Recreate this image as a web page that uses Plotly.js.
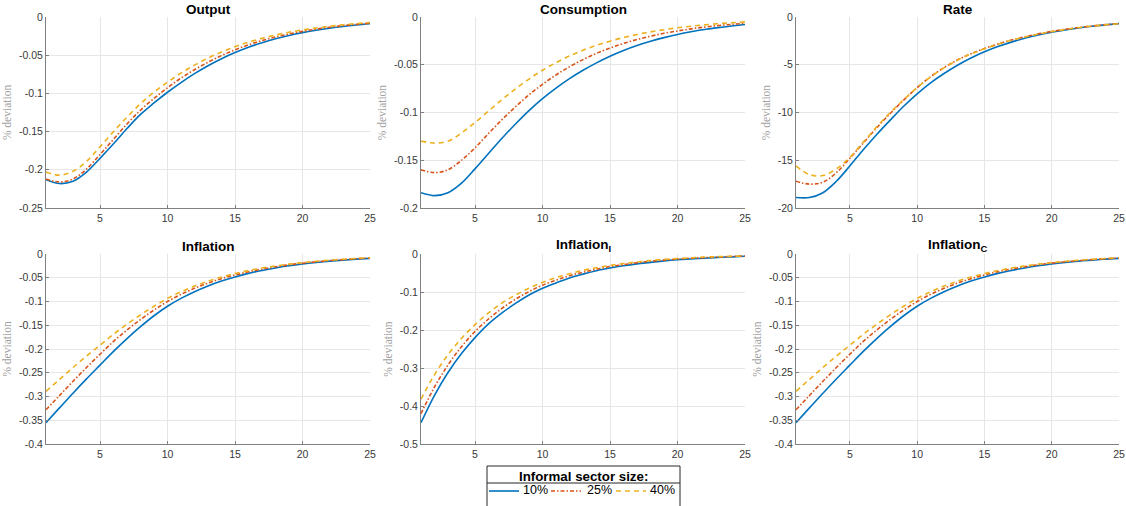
<!DOCTYPE html>
<html><head><meta charset="utf-8">
<script src="https://cdn.plot.ly/plotly-3.0.1.min.js"></script>
<style>html,body{margin:0;padding:0;background:#fff}#chart{width:1126px;height:506px}</style>
</head><body><div id="chart"></div>
<script>
// ---------- data ----------
const periods = [1,2,3,4,5,6,7,8,9,10,11,12,13,14,15,16,17,18,19,20,21,22,23,24,25];
const seriesNames = ['10%', '25%', '40%'];
const panelTitles = ['Output', 'Consumption', 'Rate', 'Inflation', 'Inflation<sub>I</sub>', 'Inflation<sub>C</sub>'];
const yAxisTitle = '% deviation';
const legendTitle = 'Informal sector size:';

const output10 = [-0.213,-0.218,-0.215,-0.203,-0.185,-0.166,-0.146,-0.1275,-0.1125,-0.0985,-0.0858,-0.0742,-0.0638,-0.0546,-0.0466,-0.0396,-0.0336,-0.0285,-0.0242,-0.0205,-0.0174,-0.0147,-0.0124,-0.0105,-0.0089];
const output25 = [-0.212,-0.216,-0.212,-0.199,-0.180,-0.160,-0.140,-0.122,-0.1065,-0.0925,-0.0800,-0.0690,-0.0592,-0.0505,-0.0430,-0.0365,-0.0309,-0.0262,-0.0222,-0.0188,-0.0159,-0.0134,-0.0113,-0.0096,-0.0081];
const output40 = [-0.203,-0.207,-0.202,-0.189,-0.170,-0.150,-0.131,-0.1135,-0.0985,-0.0852,-0.0734,-0.0630,-0.0538,-0.0458,-0.0389,-0.0330,-0.0279,-0.0236,-0.0200,-0.0169,-0.0143,-0.0121,-0.0102,-0.0086,-0.0072];

const cons10 = [-0.184,-0.187,-0.184,-0.174,-0.159,-0.143,-0.127,-0.112,-0.098,-0.0855,-0.0745,-0.0646,-0.0558,-0.0480,-0.0410,-0.0350,-0.0298,-0.0254,-0.0216,-0.0183,-0.0155,-0.0131,-0.0111,-0.0094,-0.0079];
const cons25 = [-0.160,-0.163,-0.160,-0.150,-0.137,-0.122,-0.1075,-0.094,-0.0815,-0.0705,-0.0607,-0.0521,-0.0446,-0.0381,-0.0325,-0.0277,-0.0236,-0.0201,-0.0171,-0.0146,-0.0124,-0.0106,-0.0090,-0.0077,-0.0066];
const cons40 = [-0.130,-0.132,-0.130,-0.1215,-0.1105,-0.0985,-0.0865,-0.0752,-0.0650,-0.0558,-0.0478,-0.0408,-0.0348,-0.0297,-0.0253,-0.0215,-0.0183,-0.0156,-0.0133,-0.0113,-0.0096,-0.0082,-0.0070,-0.0060,-0.0051];

const rate10 = [-18.9,-18.9,-18.4,-17.2,-15.6,-13.9,-12.3,-10.8,-9.35,-8.05,-6.9,-5.92,-5.05,-4.3,-3.65,-3.1,-2.63,-2.23,-1.89,-1.6,-1.36,-1.15,-0.97,-0.82,-0.69];
const rate25 = [-17.2,-17.5,-17.3,-16.3,-14.8,-13.2,-11.6,-10.1,-8.7,-7.4,-6.25,-5.3,-4.5,-3.85,-3.3,-2.83,-2.42,-2.07,-1.77,-1.51,-1.29,-1.1,-0.94,-0.8,-0.68];
const rate40 = [-15.6,-16.5,-16.6,-15.9,-14.7,-13.1,-11.5,-10.0,-8.65,-7.4,-6.27,-5.32,-4.52,-3.87,-3.32,-2.85,-2.44,-2.09,-1.79,-1.53,-1.31,-1.12,-0.96,-0.82,-0.7];

const infl10 = [-0.355,-0.324,-0.293,-0.263,-0.234,-0.205,-0.178,-0.153,-0.130,-0.110,-0.0935,-0.0793,-0.0672,-0.0569,-0.0482,-0.0408,-0.0346,-0.0293,-0.0248,-0.0210,-0.0178,-0.0151,-0.0128,-0.0108,-0.0092];
const infl25 = [-0.328,-0.298,-0.268,-0.239,-0.211,-0.184,-0.160,-0.138,-0.118,-0.100,-0.085,-0.0722,-0.0613,-0.0520,-0.0441,-0.0374,-0.0317,-0.0269,-0.0228,-0.0193,-0.0164,-0.0139,-0.0118,-0.0100,-0.0085];
const infl40 = [-0.289,-0.264,-0.239,-0.215,-0.192,-0.169,-0.148,-0.128,-0.110,-0.0935,-0.0795,-0.0675,-0.0573,-0.0486,-0.0412,-0.0349,-0.0296,-0.0251,-0.0213,-0.0180,-0.0153,-0.0130,-0.0110,-0.0093,-0.0079];

const inflI10 = [-0.444,-0.372,-0.312,-0.262,-0.220,-0.184,-0.155,-0.130,-0.108,-0.090,-0.076,-0.063,-0.053,-0.044,-0.037,-0.031,-0.026,-0.022,-0.018,-0.015,-0.013,-0.011,-0.009,-0.0075,-0.006];
const inflI25 = [-0.420,-0.350,-0.292,-0.244,-0.204,-0.171,-0.143,-0.119,-0.099,-0.082,-0.069,-0.057,-0.048,-0.040,-0.033,-0.028,-0.023,-0.019,-0.016,-0.0135,-0.011,-0.0095,-0.008,-0.0065,-0.0055];
const inflI40 = [-0.382,-0.318,-0.265,-0.222,-0.186,-0.155,-0.129,-0.108,-0.090,-0.075,-0.062,-0.052,-0.043,-0.036,-0.030,-0.025,-0.021,-0.017,-0.014,-0.012,-0.010,-0.008,-0.007,-0.006,-0.005];

const inflC10 = [-0.355,-0.324,-0.293,-0.263,-0.234,-0.205,-0.178,-0.153,-0.130,-0.110,-0.0935,-0.0793,-0.0672,-0.0569,-0.0482,-0.0408,-0.0346,-0.0293,-0.0248,-0.0210,-0.0178,-0.0151,-0.0128,-0.0108,-0.0092];
const inflC25 = [-0.328,-0.298,-0.268,-0.239,-0.211,-0.184,-0.160,-0.138,-0.118,-0.100,-0.085,-0.0722,-0.0613,-0.0520,-0.0441,-0.0374,-0.0317,-0.0269,-0.0228,-0.0193,-0.0164,-0.0139,-0.0118,-0.0100,-0.0085];
const inflC40 = [-0.289,-0.264,-0.239,-0.215,-0.192,-0.169,-0.148,-0.128,-0.110,-0.0935,-0.0795,-0.0675,-0.0573,-0.0486,-0.0412,-0.0349,-0.0296,-0.0251,-0.0213,-0.0180,-0.0153,-0.0130,-0.0110,-0.0093,-0.0079];

const xTickVals = [5,10,15,20,25];
const xTickText = ['5','10','15','20','25'];
const yTickVals005_025 = [0,-0.05,-0.1,-0.15,-0.2,-0.25];
const yTickText005_025 = ['0','-0.05','-0.1','-0.15','-0.2','-0.25'];
const yTickVals005_02 = [0,-0.05,-0.1,-0.15,-0.2];
const yTickText005_02 = ['0','-0.05','-0.1','-0.15','-0.2'];
const yTickValsRate = [0,-5,-10,-15,-20];
const yTickTextRate = ['0','-5','-10','-15','-20'];
const yTickVals005_04 = [0,-0.05,-0.1,-0.15,-0.2,-0.25,-0.3,-0.35,-0.4];
const yTickText005_04 = ['0','-0.05','-0.1','-0.15','-0.2','-0.25','-0.3','-0.35','-0.4'];
const yTickVals01_05 = [0,-0.1,-0.2,-0.3,-0.4,-0.5];
const yTickText01_05 = ['0','-0.1','-0.2','-0.3','-0.4','-0.5'];

// ---------- layout / styling ----------
const W = 1126, H = 506;
const colsPx = [[46,370],[421,745],[796,1119]];
const rowsPx = [[17,208],[254,444]];
const colors = ['#0072BD', '#D95319', '#EDB120'];
const dashes = ['solid', '4px,2px,1.5px,2px', '5px,4px'];
const font = 'Liberation Sans, Arial, Helvetica, sans-serif';
const px = v => v / W, py = v => 1 - v / H;

const panels = [
  {title: panelTitles[0], series: [output10, output25, output40], yr: [-0.25, 0], tv: yTickVals005_025, tt: yTickText005_025},
  {title: panelTitles[1], series: [cons10, cons25, cons40], yr: [-0.2, 0], tv: yTickVals005_02, tt: yTickText005_02},
  {title: panelTitles[2], series: [rate10, rate25, rate40], yr: [-20, 0], tv: yTickValsRate, tt: yTickTextRate},
  {title: panelTitles[3], series: [infl10, infl25, infl40], yr: [-0.4, 0], tv: yTickVals005_04, tt: yTickText005_04},
  {title: panelTitles[4], series: [inflI10, inflI25, inflI40], yr: [-0.5, 0], tv: yTickVals01_05, tt: yTickText01_05},
  {title: panelTitles[5], series: [inflC10, inflC25, inflC40], yr: [-0.4, 0], tv: yTickVals005_04, tt: yTickText005_04}
];

const traces = [];
const layout = {
  width: W, height: H,
  margin: {l: 0, r: 0, t: 0, b: 0, autoexpand: false},
  paper_bgcolor: '#ffffff', plot_bgcolor: '#ffffff',
  font: {family: font, color: '#262626'},
  showlegend: false,
  annotations: [],
  shapes: []
};

panels.forEach((p, i) => {
  const r = Math.floor(i / 3), c = i % 3;
  const n = i + 1;
  const xk = 'xaxis' + (n === 1 ? '' : n), yk = 'yaxis' + (n === 1 ? '' : n);
  const xr = 'x' + (n === 1 ? '' : n), yr = 'y' + (n === 1 ? '' : n);
  const xd = [px(colsPx[c][0]), px(colsPx[c][1])];
  const yd = [py(rowsPx[r][1]), py(rowsPx[r][0])];
  const axCommon = {
    showgrid: true, gridcolor: '#e6e6e6', gridwidth: 1,
    showline: true, linecolor: '#808080', linewidth: 1,
    ticks: 'inside', ticklen: 3, tickcolor: '#808080',
    tickfont: {family: font, size: 10.5, color: '#383838'},
    zeroline: false, fixedrange: true, automargin: false
  };
  layout[xk] = Object.assign({}, axCommon, {domain: xd, range: [1, 25], tickvals: xTickVals, ticktext: xTickText, anchor: yr});
  layout[yk] = Object.assign({}, axCommon, {domain: yd, range: p.yr, tickvals: p.tv, ticktext: p.tt, anchor: xr,
    title: {text: yAxisTitle, standoff: 4, font: {family: 'Liberation Serif, DejaVu Serif, serif', size: 11.5, color: '#a0a0a0'}}});
  p.series.forEach((s, k) => {
    traces.push({
      x: periods, y: s, xaxis: xr, yaxis: yr, type: 'scatter', mode: 'lines',
      name: seriesNames[k], showlegend: false,
      line: {color: colors[k], width: 1.6, dash: dashes[k], shape: 'spline', smoothing: 1}, hoverinfo: 'skip'
    });
  });
  layout.annotations.push({
    text: '<b>' + p.title + '</b>', xref: 'paper', yref: 'paper',
    x: (xd[0] + xd[1]) / 2, y: yd[1], yanchor: 'bottom', xanchor: 'center', yshift: -1.5,
    showarrow: false, font: {family: font, size: 13.5, color: '#000000'}
  });
});

// ---------- legend box (drawn as shapes + text) ----------
const legBox = {x0: 487, x1: 680, y0: 466, y1: 507, sep: 483, titleY: 476.5, itemY: 490};
const legItems = [{lx: 489, tx: 521}, {lx: 551, tx: 585}, {lx: 616, tx: 648}];
layout.shapes.push({type: 'rect', xref: 'paper', yref: 'paper', x0: px(legBox.x0), x1: px(legBox.x1), y0: py(legBox.y1), y1: py(legBox.y0),
  line: {color: '#262626', width: 1}, fillcolor: '#ffffff', layer: 'above'});
layout.shapes.push({type: 'line', xref: 'paper', yref: 'paper', x0: px(legBox.x0), x1: px(legBox.x1), y0: py(legBox.sep), y1: py(legBox.sep),
  line: {color: '#262626', width: 1}, layer: 'above'});
layout.annotations.push({text: '<b>' + legendTitle + '</b>', xref: 'paper', yref: 'paper', x: px((legBox.x0 + legBox.x1) / 2), y: py(legBox.titleY),
  xanchor: 'center', yanchor: 'middle', showarrow: false, font: {family: font, size: 13.3, color: '#000000'}});
legItems.forEach((it, k) => {
  layout.shapes.push({type: 'line', xref: 'paper', yref: 'paper', x0: px(it.lx), x1: px(it.lx + 30), y0: py(legBox.itemY + 1), y1: py(legBox.itemY + 1),
    line: {color: colors[k], width: 1.6, dash: dashes[k]}, layer: 'above'});
  layout.annotations.push({text: seriesNames[k], xref: 'paper', yref: 'paper', x: px(it.tx), y: py(legBox.itemY),
    xanchor: 'left', yanchor: 'middle', showarrow: false, font: {family: font, size: 12.5, color: '#000000'}});
});

Plotly.newPlot('chart', traces, layout, {displayModeBar: false, staticPlot: true});
</script>
</body></html>
